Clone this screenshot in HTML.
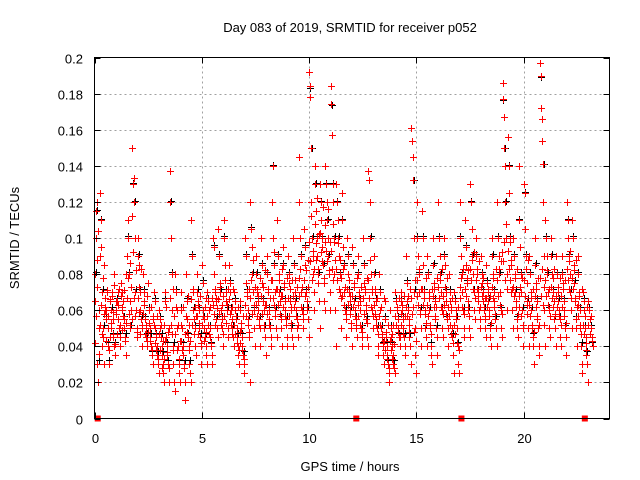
<!DOCTYPE html>
<html><head><meta charset="utf-8"><style>
body{margin:0;background:#fff;}
svg{display:block;font-family:"Liberation Sans",sans-serif;}
</style></head><body>
<svg id="chart" width="640" height="480" viewBox="0 0 640 480" xmlns="http://www.w3.org/2000/svg">
<rect x="0" y="0" width="640" height="480" fill="#fff"/>
<g id="grid"></g>
<g id="black"></g>
<g id="red"></g>
<rect x="94.5" y="57.5" width="515" height="361" fill="none" stroke="#000" stroke-width="1"/>
<g id="ticks"></g>
<text x="350" y="32" font-size="13" text-anchor="middle">Day 083 of 2019, SRMTID for receiver p052</text>
<text x="350" y="471" font-size="13" text-anchor="middle">GPS time / hours</text>
<text transform="translate(19,238) rotate(-90)" font-size="13" text-anchor="middle">SRMTID / TECUs</text>
</svg>
<script>
const xTicks=[0,5,10,15,20];
const yTicks=[0,0.02,0.04,0.06,0.08,0.1,0.12,0.14,0.16,0.18,0.2];
const yTickLabels=["0","0.02","0.04","0.06","0.08","0.1","0.12","0.14","0.16","0.18","0.2"];
const binWidth=0.25;
const redBins=[
[0.065,0.08,0.1,0.115,0.12,0.03,0.02,0.05,0.06,0.09],
[0.125,0.11,0.095,0.07,0.04,0.05,0.045,0.085,0.03,0.06],
[0.06,0.055,0.07,0.04,0.05,0.03,0.045,0.065],
[0.05,0.06,0.07,0.045,0.055,0.04,0.08,0.035,0.065],
[0.06,0.065,0.055,0.07,0.05,0.045,0.04,0.075],
[0.07,0.06,0.065,0.055,0.05,0.045,0.035,0.08],
[0.09,0.1,0.11,0.08,0.065,0.05,0.06,0.055],
[0.15,0.13,0.133,0.12,0.1,0.07,0.06,0.05,0.045],
[0.1,0.09,0.085,0.07,0.06,0.055,0.05,0.04],
[0.08,0.07,0.065,0.055,0.05,0.045,0.04,0.075],
[0.075,0.06,0.05,0.045,0.04,0.035,0.03,0.055],
[0.07,0.065,0.05,0.045,0.04,0.035,0.03,0.025],
[0.06,0.055,0.05,0.045,0.04,0.035,0.03,0.025,0.02],
[0.07,0.065,0.045,0.04,0.035,0.03,0.02,0.05],
[0.137,0.12,0.1,0.08,0.06,0.04,0.03,0.02,0.015],
[0.08,0.07,0.06,0.05,0.04,0.03,0.025,0.02],
[0.07,0.06,0.05,0.04,0.035,0.03,0.02,0.01],
[0.08,0.065,0.055,0.045,0.04,0.03,0.025,0.02],
[0.11,0.09,0.07,0.06,0.055,0.05,0.04,0.035],
[0.08,0.07,0.065,0.06,0.05,0.045,0.04,0.03],
[0.085,0.075,0.06,0.055,0.05,0.045,0.04,0.035,0.03],
[0.07,0.065,0.06,0.05,0.045,0.04,0.035,0.03],
[0.1,0.095,0.08,0.07,0.065,0.055,0.05,0.045],
[0.105,0.09,0.075,0.07,0.06,0.055,0.05,0.04],
[0.11,0.1,0.085,0.07,0.065,0.06,0.05,0.045],
[0.085,0.075,0.07,0.06,0.055,0.05,0.045,0.04],
[0.07,0.065,0.06,0.055,0.05,0.045,0.04,0.035,0.03],
[0.065,0.06,0.05,0.045,0.04,0.035,0.03,0.025],
[0.1,0.09,0.075,0.07,0.06,0.055,0.045,0.02],
[0.12,0.105,0.095,0.08,0.07,0.06,0.05,0.04],
[0.09,0.08,0.07,0.065,0.06,0.055,0.05,0.04],
[0.1,0.085,0.075,0.065,0.06,0.05,0.045,0.035],
[0.09,0.08,0.07,0.06,0.055,0.05,0.045,0.04],
[0.12,0.14,0.1,0.085,0.07,0.06,0.05,0.045],
[0.11,0.09,0.08,0.07,0.065,0.055,0.05,0.04],
[0.095,0.085,0.075,0.065,0.06,0.055,0.045,0.04],
[0.09,0.08,0.075,0.065,0.06,0.05,0.045,0.04],
[0.1,0.085,0.07,0.065,0.06,0.055,0.05,0.045],
[0.12,0.145,0.1,0.09,0.07,0.06,0.055,0.05],
[0.105,0.095,0.085,0.07,0.065,0.06,0.055,0.045],
[0.192,0.184,0.178,0.15,0.12,0.1,0.09,0.08,0.07,0.06],
[0.14,0.13,0.115,0.1,0.09,0.08,0.075,0.065,0.05],
[0.13,0.12,0.11,0.1,0.095,0.085,0.075,0.065,0.06],
[0.14,0.13,0.12,0.11,0.1,0.09,0.08,0.07,0.06],
[0.184,0.174,0.157,0.13,0.12,0.1,0.08,0.06,0.04],
[0.13,0.12,0.11,0.1,0.09,0.08,0.07,0.05],
[0.125,0.11,0.095,0.085,0.07,0.06,0.055,0.045],
[0.1,0.09,0.08,0.07,0.065,0.06,0.05,0.04],
[0.095,0.085,0.075,0.065,0.06,0.055,0.05,0.045],
[0.09,0.08,0.07,0.065,0.06,0.05,0.045,0.04],
[0.1,0.085,0.075,0.07,0.06,0.055,0.045,0.04],
[0.137,0.132,0.12,0.1,0.08,0.07,0.06,0.05],
[0.09,0.08,0.07,0.065,0.055,0.05,0.04,0.035],
[0.08,0.07,0.06,0.05,0.045,0.04,0.035,0.03],
[0.065,0.055,0.045,0.04,0.035,0.03,0.025,0.02],
[0.06,0.05,0.045,0.04,0.035,0.03,0.028,0.025],
[0.07,0.065,0.06,0.055,0.05,0.045,0.04],
[0.07,0.065,0.06,0.055,0.05,0.045,0.04,0.035],
[0.09,0.075,0.065,0.06,0.055,0.045,0.04,0.03],
[0.161,0.154,0.145,0.132,0.1,0.07,0.05,0.035,0.025],
[0.12,0.1,0.09,0.08,0.07,0.06,0.05,0.04],
[0.115,0.1,0.085,0.07,0.06,0.05,0.045,0.04],
[0.09,0.08,0.07,0.06,0.05,0.04,0.035,0.03],
[0.1,0.085,0.075,0.065,0.055,0.05,0.045,0.035],
[0.12,0.1,0.09,0.08,0.07,0.06,0.05,0.045],
[0.1,0.09,0.085,0.07,0.065,0.055,0.05,0.04],
[0.08,0.07,0.065,0.06,0.05,0.045,0.035,0.025],
[0.07,0.065,0.06,0.055,0.05,0.04,0.03,0.025],
[0.12,0.1,0.09,0.08,0.07,0.06,0.05,0.045],
[0.11,0.095,0.085,0.075,0.065,0.06,0.05,0.045],
[0.13,0.12,0.105,0.09,0.08,0.07,0.06,0.055],
[0.1,0.09,0.08,0.07,0.065,0.06,0.055,0.05],
[0.09,0.08,0.075,0.07,0.065,0.06,0.055,0.05,0.045],
[0.085,0.075,0.07,0.065,0.06,0.05,0.045,0.04],
[0.1,0.09,0.08,0.07,0.065,0.055,0.05,0.04],
[0.12,0.1,0.09,0.08,0.07,0.06,0.05,0.045],
[0.186,0.177,0.167,0.15,0.14,0.12,0.1,0.08,0.06],
[0.156,0.14,0.125,0.1,0.085,0.07,0.06,0.05],
[0.1,0.09,0.08,0.07,0.065,0.055,0.05,0.045],
[0.14,0.11,0.095,0.08,0.07,0.06,0.05,0.04],
[0.13,0.125,0.105,0.09,0.075,0.065,0.05,0.04],
[0.09,0.08,0.07,0.06,0.05,0.045,0.04,0.03],
[0.1,0.085,0.075,0.065,0.055,0.05,0.04,0.035],
[0.197,0.19,0.172,0.166,0.154,0.141,0.12,0.09,0.06,0.04],
[0.11,0.1,0.09,0.08,0.07,0.06,0.05,0.045],
[0.1,0.09,0.08,0.07,0.065,0.055,0.05,0.04],
[0.09,0.08,0.07,0.065,0.06,0.055,0.045,0.04],
[0.09,0.08,0.075,0.065,0.06,0.05,0.045,0.035],
[0.12,0.11,0.1,0.09,0.08,0.07,0.06,0.05],
[0.11,0.1,0.085,0.075,0.065,0.055,0.05,0.04],
[0.09,0.08,0.07,0.06,0.05,0.04,0.03,0.025],
[0.07,0.065,0.06,0.05,0.045,0.035,0.03,0.02],
[0.065,0.06,0.055,0.05,0.045,0.04]
];
const redBins2=[
[0.042,0.057,0.073,0.088,0.104,0.036],
[0.052,0.063,0.047,0.078,0.058,0.067],
[0.062,0.043,0.071,0.057,0.038,0.066],
[0.053,0.068,0.047,0.059,0.074,0.041],
[0.058,0.047,0.063,0.072,0.052,0.068],
[0.062,0.049,0.057,0.071,0.043,0.053],
[0.067,0.078,0.058,0.086,0.052,0.073],
[0.112,0.092,0.067,0.057,0.082,0.048],
[0.067,0.059,0.073,0.047,0.083,0.052],
[0.058,0.063,0.047,0.052,0.068,0.043],
[0.048,0.053,0.043,0.062,0.038,0.057],
[0.052,0.042,0.047,0.038,0.057,0.033],
[0.047,0.038,0.052,0.028,0.043,0.033],
[0.052,0.043,0.062,0.037,0.048,0.028],
[0.067,0.052,0.047,0.072,0.038,0.057],
[0.047,0.062,0.038,0.052,0.033,0.043],
[0.043,0.052,0.038,0.062,0.028,0.047],
[0.057,0.048,0.068,0.038,0.052,0.043],
[0.066,0.052,0.072,0.047,0.062,0.057],
[0.057,0.063,0.047,0.053,0.068,0.042],
[0.052,0.057,0.043,0.062,0.048,0.067],
[0.057,0.052,0.047,0.062,0.042,0.067],
[0.063,0.058,0.072,0.052,0.067,0.061],
[0.066,0.058,0.073,0.052,0.063,0.047],
[0.068,0.057,0.077,0.053,0.063,0.072],
[0.066,0.058,0.052,0.062,0.047,0.072],
[0.052,0.047,0.057,0.042,0.062,0.038],
[0.048,0.042,0.053,0.038,0.057,0.033],
[0.063,0.057,0.068,0.052,0.048,0.072],
[0.067,0.077,0.058,0.088,0.063,0.073],
[0.063,0.072,0.057,0.068,0.052,0.078],
[0.068,0.058,0.073,0.052,0.063,0.082],
[0.063,0.058,0.072,0.052,0.067,0.077],
[0.077,0.067,0.063,0.092,0.057,0.072],
[0.072,0.063,0.077,0.058,0.068,0.083],
[0.068,0.062,0.073,0.057,0.052,0.078],
[0.067,0.057,0.072,0.062,0.053,0.077],
[0.068,0.062,0.077,0.057,0.073,0.052],
[0.078,0.068,0.083,0.062,0.073,0.058],
[0.077,0.068,0.082,0.062,0.073,0.088],
[0.098,0.087,0.112,0.077,0.093,0.083],
[0.108,0.097,0.088,0.122,0.083,0.102],
[0.103,0.092,0.087,0.117,0.078,0.098],
[0.107,0.093,0.087,0.116,0.082,0.098],
[0.093,0.083,0.108,0.077,0.098,0.088],
[0.083,0.077,0.097,0.072,0.088,0.067],
[0.078,0.068,0.083,0.063,0.073,0.058],
[0.072,0.063,0.077,0.058,0.068,0.053],
[0.068,0.062,0.073,0.057,0.052,0.078],
[0.063,0.057,0.068,0.052,0.073,0.048],
[0.067,0.058,0.072,0.063,0.053,0.078],
[0.077,0.067,0.088,0.062,0.072,0.057],
[0.063,0.058,0.072,0.052,0.067,0.047],
[0.057,0.052,0.062,0.047,0.042,0.067],
[0.043,0.038,0.048,0.033,0.052,0.028],
[0.043,0.038,0.047,0.033,0.052,0.041],
[0.057,0.052,0.062,0.048,0.067,0.045],
[0.058,0.052,0.063,0.047,0.068,0.057],
[0.062,0.057,0.068,0.052,0.048,0.072],
[0.067,0.058,0.062,0.048,0.077,0.043],
[0.077,0.068,0.063,0.083,0.058,0.072],
[0.072,0.063,0.067,0.058,0.078,0.053],
[0.063,0.057,0.067,0.052,0.047,0.072],
[0.068,0.062,0.072,0.057,0.062,0.078],
[0.073,0.067,0.077,0.062,0.083,0.058],
[0.068,0.063,0.073,0.058,0.078,0.062],
[0.057,0.052,0.062,0.047,0.067,0.042],
[0.052,0.047,0.057,0.042,0.062,0.038],
[0.073,0.067,0.078,0.062,0.083,0.058],
[0.072,0.068,0.078,0.062,0.082,0.057],
[0.083,0.077,0.088,0.072,0.092,0.067],
[0.077,0.072,0.083,0.068,0.087,0.062],
[0.073,0.068,0.078,0.062,0.067,0.057],
[0.067,0.062,0.072,0.057,0.068,0.053],
[0.073,0.067,0.078,0.062,0.058,0.083],
[0.077,0.068,0.083,0.063,0.087,0.058],
[0.092,0.087,0.098,0.077,0.108,0.072],
[0.093,0.083,0.098,0.077,0.088,0.072],
[0.073,0.068,0.078,0.062,0.083,0.058],
[0.068,0.062,0.073,0.057,0.078,0.052],
[0.077,0.068,0.083,0.063,0.058,0.088],
[0.063,0.057,0.067,0.052,0.072,0.048],
[0.068,0.062,0.072,0.057,0.078,0.052],
[0.078,0.068,0.083,0.063,0.073,0.052],
[0.077,0.068,0.082,0.063,0.072,0.057],
[0.073,0.067,0.078,0.062,0.083,0.058],
[0.068,0.062,0.073,0.057,0.078,0.052],
[0.068,0.062,0.072,0.057,0.077,0.053],
[0.083,0.077,0.087,0.072,0.093,0.067],
[0.078,0.072,0.082,0.067,0.088,0.062],
[0.063,0.057,0.068,0.052,0.047,0.072],
[0.052,0.047,0.057,0.042,0.038,0.062],
[0.052,0.047,0.057,0.043]
];
const blackBins=redBins.map(b=>[b[1],b[3],b[5]]);
const markerTimes=[0.15,12.2,17.1,22.85];
const markerValues=[0,0,0,0];

const X0=94.5,X1=609.5,Y0=418.5,Y1=57.5;
const xs=t=>X0+(t/24)*(X1-X0);
const ys=v=>Y0-(v/0.2)*(Y0-Y1);
const NS='http://www.w3.org/2000/svg';
function mk(tag,attrs,parent){const e=document.createElementNS(NS,tag);for(const k in attrs)e.setAttribute(k,attrs[k]);parent.appendChild(e);return e;}
const grid=document.getElementById('grid'),ticks=document.getElementById('ticks');
yTicks.forEach((v,i)=>{
  const y=Math.round(ys(v))+0.5;
  if(i>0&&i<yTicks.length-1){const g=mk('line',{x1:X0,x2:X1,y1:y,y2:y,stroke:'#a0a0a0','stroke-dasharray':'2,3'},grid);
  
  }
  const t=mk('text',{x:83,y:y+5,'font-size':13,'text-anchor':'end'},ticks);t.textContent=yTickLabels[i];
  
  
  const l=mk('path',{d:`M${X0},${y}h6M${X1},${y}h-6`,stroke:'#000'},ticks);
  
  
});
xTicks.forEach(v=>{
  const x=Math.round(xs(v))+0.5;
  if(v>0){const g=mk('line',{x1:x,x2:x,y1:Y0,y2:Y1,stroke:'#a0a0a0','stroke-dasharray':'2,3'},grid);
  
  }
  const t=mk('text',{x:x,y:443,'font-size':13,'text-anchor':'middle'},ticks);t.textContent=String(v);
  
  
  const l=mk('path',{d:`M${x},${Y0}v-6M${x},${Y1}v6`,stroke:'#000'},ticks);
  
  
});
function plus(g,t,v,color,name){
  const x=Math.round(xs(t))+0.5,y=Math.round(ys(v))+0.5;
  const p=mk('path',{d:`M${x-3.5},${y}h7M${x},${y-3.5}v7`,stroke:color,'stroke-width':1},g);
  
  
}
const gb=document.getElementById('black'),gr=document.getElementById('red');
blackBins.forEach((b,i)=>b.forEach((v,j)=>plus(gb,i*binWidth+(j+0.7)*binWidth/(b.length+0.4),v*0.98+0.003,'#000','black-point')));
redBins.forEach((b,i)=>b.forEach((v,j)=>plus(gr,i*binWidth+(j+0.5)*binWidth/b.length,v,'#f00','red-point')));
redBins2.forEach((b,i)=>b.forEach((v,j)=>plus(gr,i*binWidth+(j+0.25)*binWidth/b.length,v,'#f00','red-point')));
markerTimes.forEach((t,i)=>{
  const r=mk('rect',{x:xs(t)-3,y:ys(markerValues[i])-3,width:6,height:6,fill:'#f00'},gr);
  
  
});
</script>
</body></html>
